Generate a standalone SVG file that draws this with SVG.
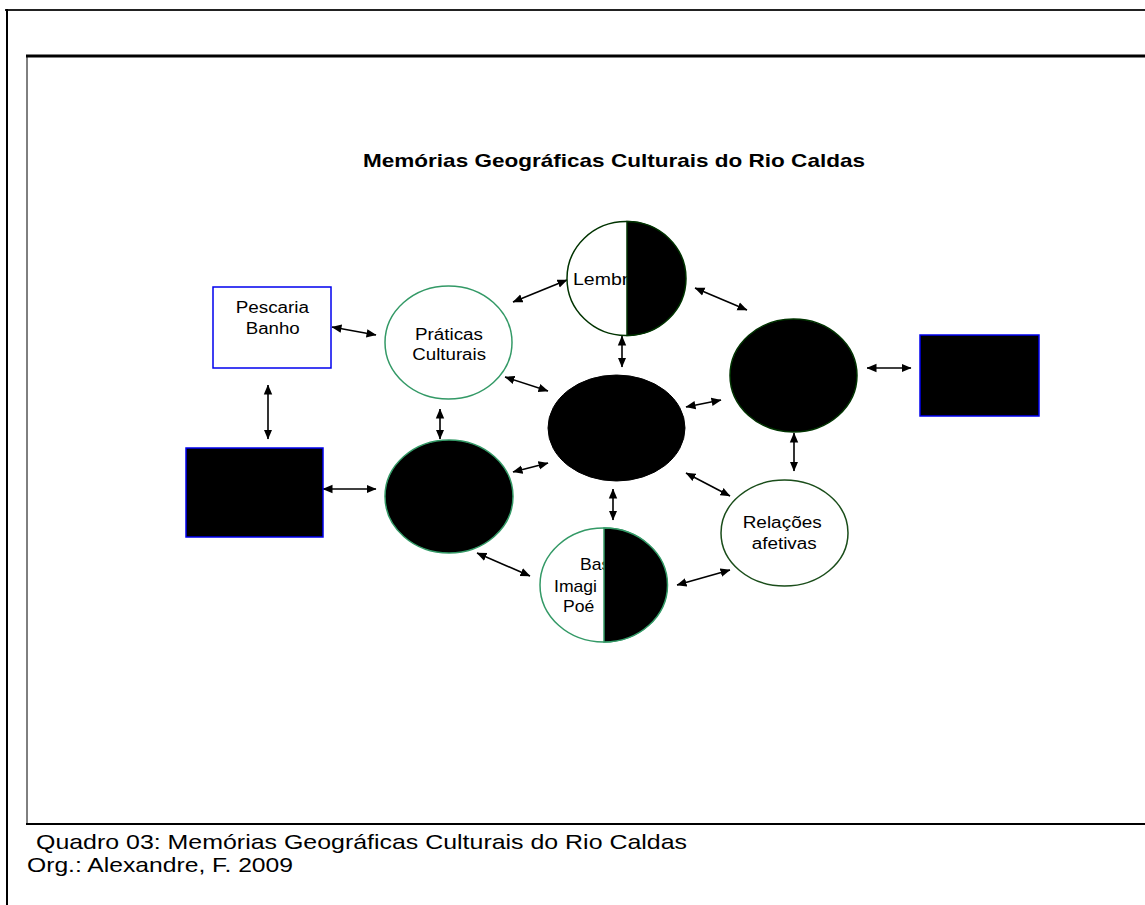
<svg xmlns="http://www.w3.org/2000/svg" width="1145" height="905" viewBox="0 0 1145 905">
<defs>
<marker id="ah" viewBox="0 0 10 10" refX="9.5" refY="5" markerWidth="10" markerHeight="10" markerUnits="userSpaceOnUse" orient="auto-start-reverse">
<path d="M0,0.8 L10,5 L0,9.2 Z" fill="#000"/>
</marker>
<style>
text{font-family:"Liberation Sans",Arial,Helvetica,sans-serif;fill:#000}
.lbl{font-size:16px}
.cap{font-size:21px}
.ttl{font-size:19px;font-weight:bold}
.con line{stroke:#000;stroke-width:1.6;marker-start:url(#ah);marker-end:url(#ah)}
.box{stroke:#0000ee;stroke-width:1.5}
.sg{stroke:#339966;stroke-width:1.5}
.dg{stroke:#003300;stroke-width:1.5}
</style>
</defs>
<rect width="1145" height="905" fill="#fff"/>
<g id="frame" fill="none">
<line x1="5" y1="10" x2="1145" y2="10" stroke="#222" stroke-width="2"/>
<line x1="7" y1="9" x2="7" y2="905" stroke="#000" stroke-width="2"/>
<line x1="26" y1="56" x2="1145" y2="56" stroke="#000" stroke-width="3"/>
<line x1="27" y1="55" x2="27" y2="825" stroke="#000" stroke-width="1"/>
<line x1="26" y1="824" x2="1145" y2="824" stroke="#000" stroke-width="2"/>
</g>
<text id="title" class="ttl" x="363" y="166.5" textLength="502" lengthAdjust="spacingAndGlyphs">Memórias Geográficas Culturais do Rio Caldas</text>
<g id="connectors" class="con">
<line x1="332" y1="327" x2="376" y2="335"/>
<line x1="268" y1="385" x2="268" y2="439"/>
<line x1="323" y1="489" x2="376" y2="489"/>
<line x1="440" y1="409" x2="440" y2="439"/>
<line x1="505" y1="377" x2="548" y2="391"/>
<line x1="513" y1="472" x2="548" y2="463"/>
<line x1="513" y1="302" x2="567" y2="280"/>
<line x1="695" y1="288" x2="747" y2="310"/>
<line x1="622" y1="336" x2="622" y2="367"/>
<line x1="686" y1="407" x2="721" y2="400"/>
<line x1="867" y1="368" x2="911" y2="368"/>
<line x1="794" y1="433" x2="794" y2="471"/>
<line x1="613" y1="489" x2="613" y2="520"/>
<line x1="686" y1="473" x2="730" y2="496"/>
<line x1="677" y1="585" x2="730" y2="570"/>
<line x1="477" y1="553" x2="530" y2="576"/>
</g>
<g id="pescaria">
<rect class="box" x="213" y="287" width="118" height="81" fill="#fff"/>
<text class="lbl" x="235.7" y="313.3" textLength="73.3" lengthAdjust="spacingAndGlyphs">Pescaria</text>
<text class="lbl" x="245.7" y="334" textLength="54" lengthAdjust="spacingAndGlyphs">Banho</text>
</g>
<g id="praticas">
<ellipse class="sg" cx="448.5" cy="342.5" rx="63.5" ry="56.5" fill="#fff"/>
<text class="lbl" x="415" y="340" textLength="68" lengthAdjust="spacingAndGlyphs">Práticas</text>
<text class="lbl" x="412.3" y="360" textLength="73.7" lengthAdjust="spacingAndGlyphs">Culturais</text>
</g>
<g id="lembr">
<ellipse class="dg" cx="626" cy="278.5" rx="59" ry="57" fill="#fff"/>
<text class="lbl" transform="matrix(1.22,0,0,1,573,285)">Lembr</text>
<path class="dg" d="M627,221.5 A59,57 0 0 1 627,335.5 Z" fill="#000"/>
</g>
<g id="centro">
<ellipse cx="616.5" cy="428" rx="68.5" ry="53" fill="#000" stroke="#000" stroke-width="1"/>
</g>
<g id="direita">
<ellipse class="dg" cx="793.5" cy="375.5" rx="63.5" ry="56.5" fill="#000"/>
</g>
<g id="caixa-direita">
<rect class="box" x="920" y="335" width="119" height="81" fill="#000"/>
</g>
<g id="esquerda">
<ellipse class="sg" cx="449" cy="496.5" rx="64" ry="56.5" fill="#000"/>
</g>
<g id="caixa-esquerda">
<rect class="box" x="186" y="448" width="137" height="89" fill="#000"/>
</g>
<g id="relacoes">
<ellipse cx="784.5" cy="533" rx="63.5" ry="53" fill="#fff" stroke="#1a4d1a" stroke-width="1.5"/>
<text class="lbl" x="742.7" y="528" textLength="79" lengthAdjust="spacingAndGlyphs">Relações</text>
<text class="lbl" x="751.7" y="549" textLength="65" lengthAdjust="spacingAndGlyphs">afetivas</text>
</g>
<g id="base">
<ellipse class="sg" cx="603.5" cy="585" rx="63.5" ry="57" fill="#fff"/>
<text class="lbl" transform="matrix(1.1,0,0,1,580,570)">Bas</text>
<text class="lbl" transform="matrix(1.1,0,0,1,554,592)">Imagi</text>
<text class="lbl" transform="matrix(1.1,0,0,1,563,612)">Poé</text>
<path class="sg" d="M604,528 A63.5,57 0 0 1 604,642 Z" fill="#000"/>
</g>
<g id="legenda">
<text class="cap" x="36" y="849" textLength="651" lengthAdjust="spacingAndGlyphs">Quadro 03: Memórias Geográficas Culturais do Rio Caldas</text>
<text class="cap" x="27" y="872" textLength="266" lengthAdjust="spacingAndGlyphs">Org.: Alexandre, F. 2009</text>
</g>
</svg>
